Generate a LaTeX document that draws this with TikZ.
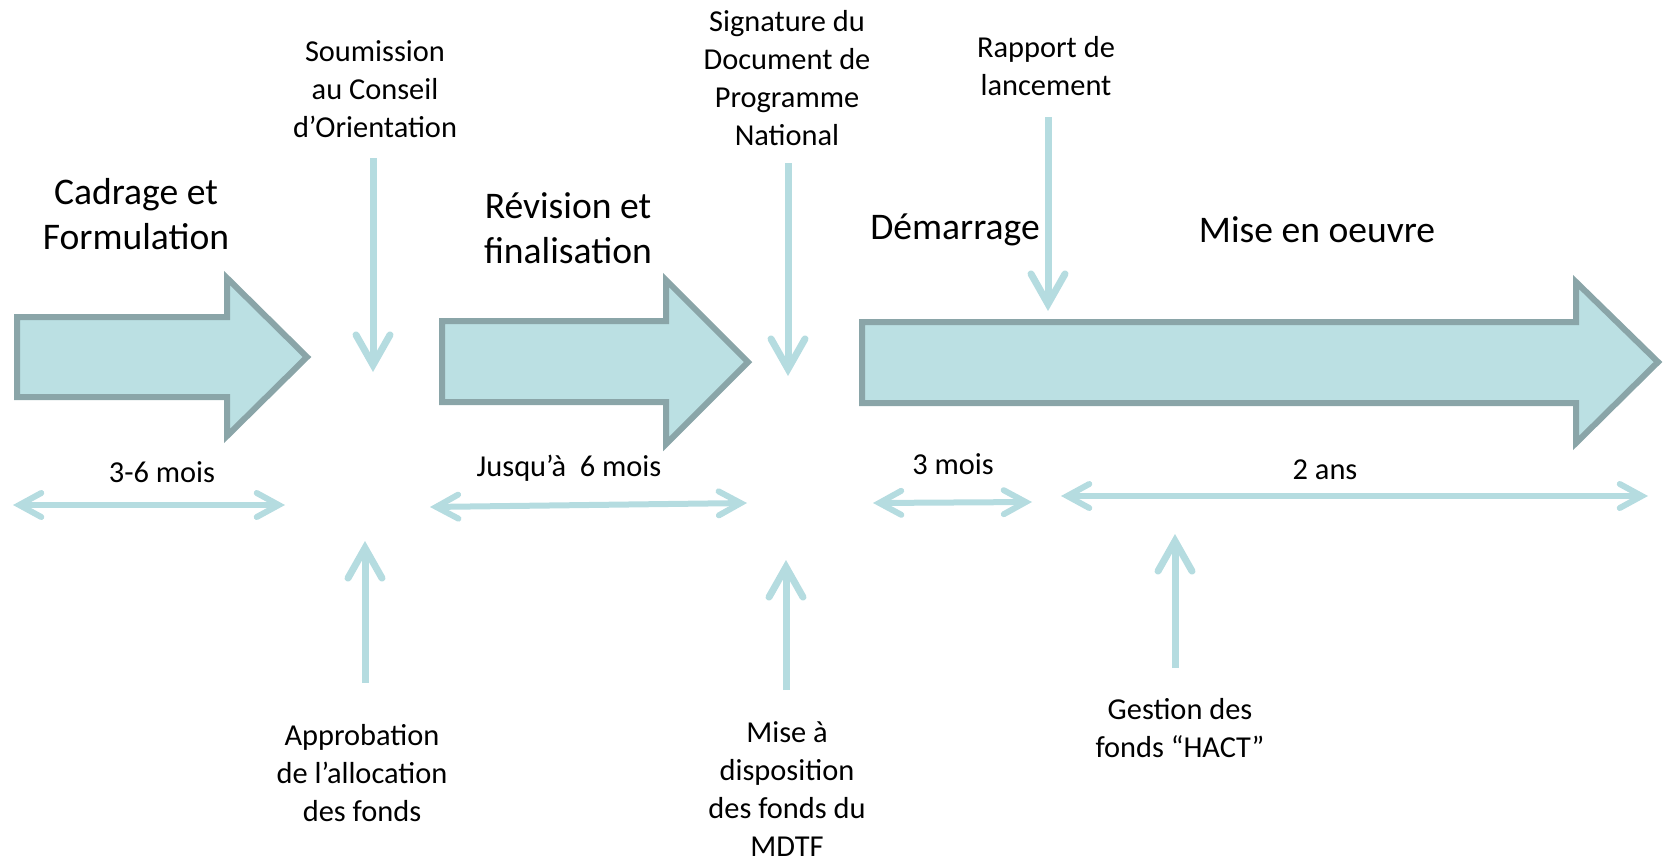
\documentclass[tikz,border=0pt]{standalone}
\usepackage{fontspec}
\setmainfont{Carlito}
\usetikzlibrary{arrows.meta}
\definecolor{blockfill}{HTML}{BBE0E3}
\definecolor{blockline}{HTML}{8AA5A8}
\definecolor{thin}{HTML}{B5DCE0}
\begin{document}
\begin{tikzpicture}[x=0.5pt,y=-0.5pt,
  blockarrow/.style={draw=blockline,fill=blockfill,line width=3pt,line join=miter},
  biglabel/.style={align=center,inner sep=0pt,font=\fontsize{18.8pt}{22.5pt}\selectfont},
  smalllabel/.style={align=center,inner sep=0pt,font=\fontsize{15.2pt}{19pt}\selectfont},
  vconn/.style={draw=thin,line width=3.5pt,-{Straight Barb[length=15pt,width=17pt,line cap=round]}},
  span/.style={draw=thin,line width=3pt,{Straight Barb[length=11pt,width=12pt,line cap=round]}-{Straight Barb[length=11pt,width=12pt,line cap=round]}}]
\useasboundingbox (0,0) rectangle (1669,862);
% block arrows
\draw[blockarrow] (17,317) -- (227,317) -- (227,278) -- (307,357) -- (227,436) -- (227,397) -- (17,397) -- cycle;
\draw[blockarrow] (442,321) -- (666,321) -- (666,280) -- (748,362) -- (666,444) -- (666,402) -- (442,402) -- cycle;
\draw[blockarrow] (862,322) -- (1576,322) -- (1576,282) -- (1658,362) -- (1576,443) -- (1576,403) -- (862,403) -- cycle;
% phase labels
\node[biglabel] (cadrage) at (136,214) {Cadrage et\\Formulation};
\node[biglabel] (revision) at (568,228) {Révision et\\finalisation};
\node[biglabel] (demarrage) at (955,230) {Démarrage};
\node[biglabel] (miseoeuvre) at (1317,230) {Mise en oeuvre};
% milestone labels
\node[smalllabel] (soumission) at (375,89) {Soumission\\au Conseil\\d’Orientation};
\node[smalllabel] (signature) at (787,78) {Signature du\\Document de\\Programme\\National};
\node[smalllabel] (rapport) at (1046,66) {Rapport de\\lancement};
\node[smalllabel] (approbation) at (362,773) {Approbation\\de l’allocation\\des fonds};
\node[smalllabel] (misedispo) at (787,789) {Mise à\\disposition\\des fonds du\\MDTF};
\node[smalllabel] (gestion) at (1180,728) {Gestion des\\fonds “HACT”};
% durations
\node[smalllabel] (d1) at (162,472) {3-6 mois};
\node[smalllabel] (d2) at (569,468) {Jusqu’à\hspace{0.45em}6 mois};
\node[smalllabel] (d3) at (953,464) {3 mois};
\node[smalllabel] (d4) at (1325,470) {2 ans};
% connector endpoints
\coordinate (s1) at (373,158); \coordinate (s2) at (373,372);
\coordinate (g1) at (788,163); \coordinate (g2) at (788,376);
\coordinate (r1) at (1048,117); \coordinate (r2) at (1048,311);
\coordinate (a1) at (365,683); \coordinate (a2) at (365,541);
\coordinate (m1) at (786,690); \coordinate (m2) at (786,560);
\coordinate (h1) at (1175,668); \coordinate (h2) at (1175,534);
\coordinate (p1a) at (13,505); \coordinate (p1b) at (285,505);
\coordinate (p2a) at (430,507); \coordinate (p2b) at (747,503);
\coordinate (p3a) at (873,503); \coordinate (p3b) at (1032,502);
\coordinate (p4a) at (1061,496); \coordinate (p4b) at (1648,496);
\draw[vconn] (s1) -- (s2);
\draw[vconn] (g1) -- (g2);
\draw[vconn] (r1) -- (r2);
\draw[vconn] (a1) -- (a2);
\draw[vconn] (m1) -- (m2);
\draw[vconn] (h1) -- (h2);
\draw[span] (p1a) -- (p1b);
\draw[span] (p2a) -- (p2b);
\draw[span] (p3a) -- (p3b);
\draw[span] (p4a) -- (p4b);
\end{tikzpicture}
\end{document}
